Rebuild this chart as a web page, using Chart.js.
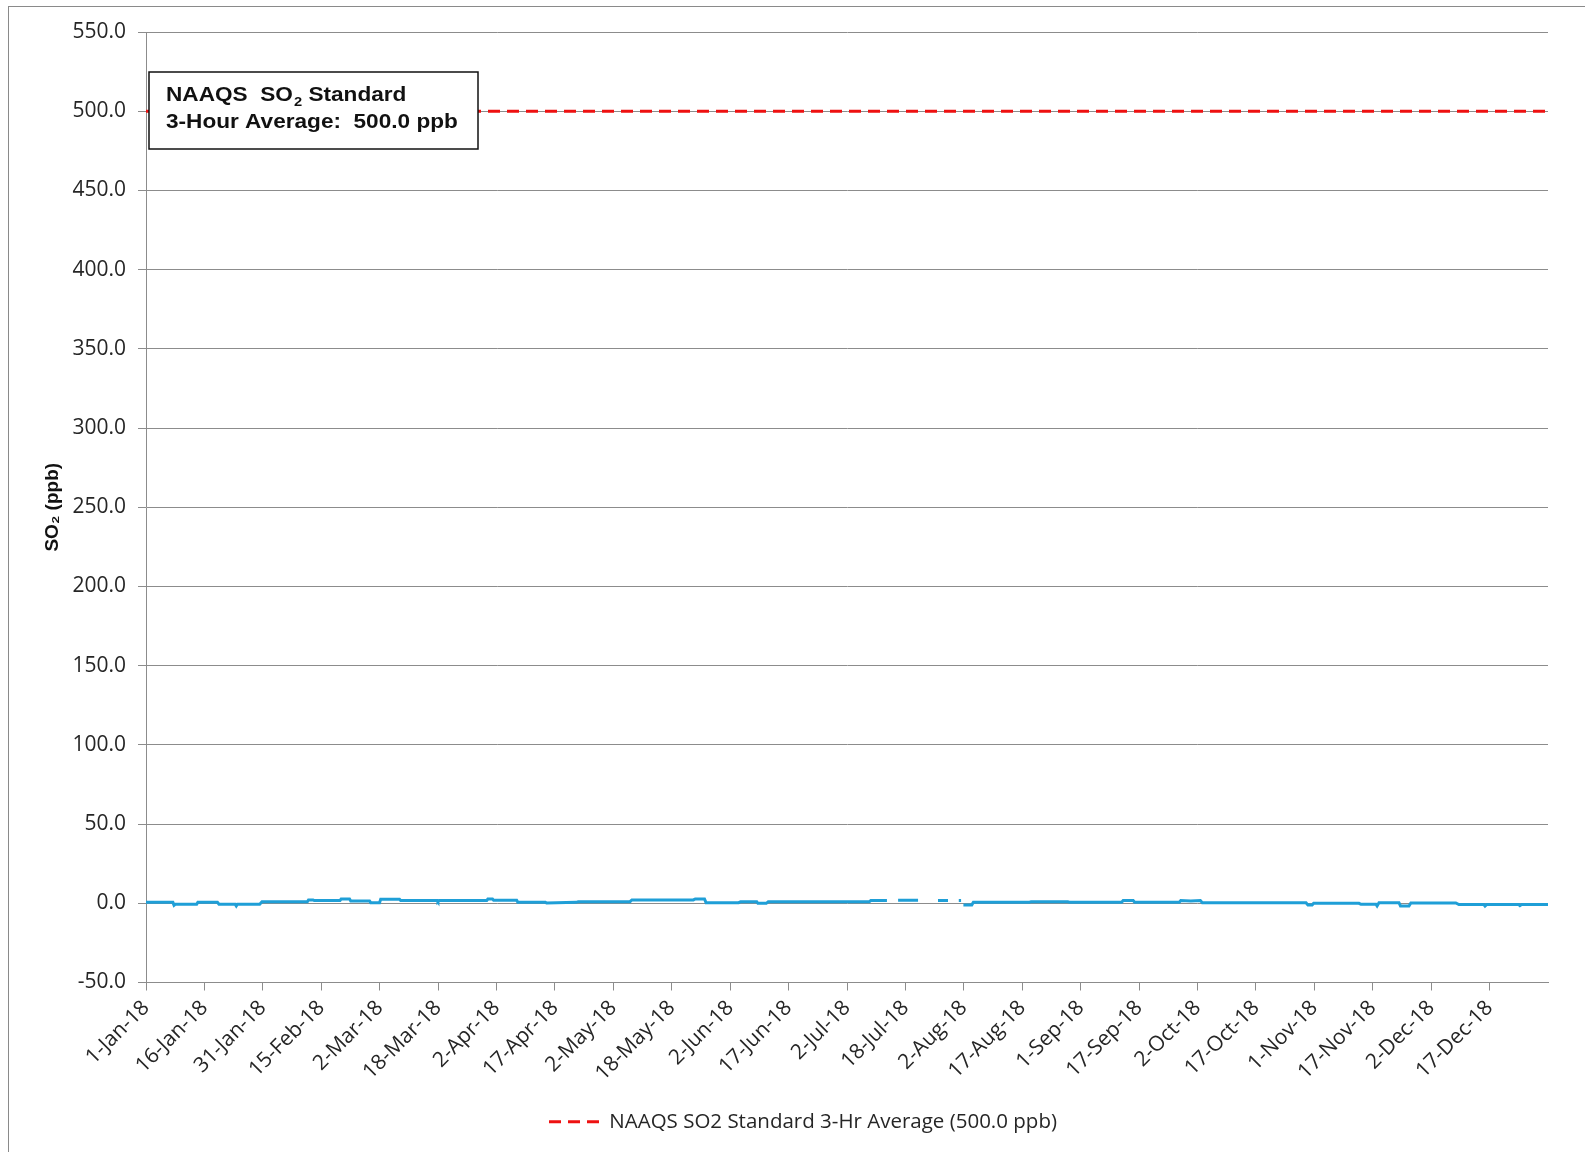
<!DOCTYPE html>
<html>
<head>
<meta charset="utf-8">
<script src="https://cdn.jsdelivr.net/npm/chart.js@4.4.1/dist/chart.umd.min.js"></script>
<style>
  html, body { margin: 0; padding: 0; background: #fff; overflow: hidden; }
  #frame { position: absolute; left: 8px; top: 6px; width: 1700px; height: 1300px; border: 1px solid #8a8a8a; z-index: 0; }
  #wrap { position: absolute; left: 0; top: 0; width: 1585px; height: 1152px; z-index: 1; }
</style>
</head>
<body>
<div id="frame"></div>
<div id="wrap"><canvas id="c" width="1585" height="1152"></canvas></div>
<script>
// ---- data ----
const tickLabels = ['1-Jan-18','16-Jan-18','31-Jan-18','15-Feb-18','2-Mar-18','18-Mar-18','2-Apr-18','17-Apr-18',
  '2-May-18','18-May-18','2-Jun-18','17-Jun-18','2-Jul-18','18-Jul-18','2-Aug-18','17-Aug-18','1-Sep-18',
  '17-Sep-18','2-Oct-18','17-Oct-18','1-Nov-18','17-Nov-18','2-Dec-18','17-Dec-18'];
const yTickValues = [-50, 0, 50, 100, 150, 200, 250, 300, 350, 400, 450, 500, 550];
// day of year and SO2 3-hr average (ppb); null = missing data
const so2Days = [0, 7.0, 7.3, 7.6, 13.2, 13.5, 18.6, 19.0, 23.2, 23.5, 23.8, 29.6, 30.2, 42.0, 42.3, 43.5,
  43.8, 50.5, 50.8, 53.0, 53.3, 58.2, 58.5, 60.8, 61.1, 66.0, 66.3, 75.8, 76.0, 76.3, 88.7, 89.0, 90.2,
  90.5, 96.5, 96.8, 104.0, 104.3, 112.0, 112.5, 120.8, 121.3, 126.0, 126.5, 142.5, 143.0, 145.4, 145.8,
  154.3, 154.8, 159.0, 159.3, 161.5, 162.0, 188.3, 188.7, 192.9, 193.0, 195.8, 201.0, 201.1, 206.2,
  208.8, 208.9, 211.6, 212.2, 212.3, 212.8, 215.0, 215.4, 230.0, 230.4, 240.0, 240.5, 254.0, 254.4,
  257.0, 257.4, 269.0, 269.4, 272.0, 274.5, 275.0, 302.0, 302.5, 303.6, 304.0, 315.8, 316.3, 320.2,
  320.5, 321.0, 326.2, 326.6, 328.8, 329.3, 341.0, 341.8, 348.3, 348.6, 349.0, 357.4, 357.7, 358.1, 365];
const so2Values = [0.6, 0.6, -1.2, -0.6, -0.6, 0.6, 0.6, -0.6, -0.6, -1.7, -0.6, -0.6, 1.0, 1.0, 2.1, 2.1,
  1.7, 1.7, 2.7, 2.7, 1.5, 1.5, 0.4, 0.4, 2.5, 2.5, 1.7, 1.7, 1.0, 1.7, 1.7, 2.7, 2.7,
  1.9, 1.9, 0.6, 0.6, 0.2, 0.6, 0.9, 0.9, 1.0, 1.0, 2.1, 2.1, 2.7, 2.7, 0.4,
  0.4, 1.0, 1.0, 0.0, 0.0, 1.0, 1.0, 1.7, 1.7, null, 1.9, 1.9, null, 1.7,
  1.7, null, 1.7, 1.7, null, -1.0, -1.0, 0.6, 0.6, 1.0, 1.0, 0.6, 0.6, 1.7,
  1.7, 0.6, 0.6, 1.7, 1.4, 1.7, 0.4, 0.4, -1.0, -1.0, 0.0, 0.0, -0.6, -0.6,
  -1.7, 0.4, 0.4, -1.7, -1.7, 0.2, 0.2, -0.8, -0.8, -1.7, -0.8, -0.8, -1.5, -0.8, -0.8];
const standardDays = [0, 365];
const standardValue = 500.0;
const seriesNames = ['SO2 3-Hr Average', 'NAAQS SO2 Standard 3-Hr Average (500.0 ppb)'];
const boxLines = ['NAAQS  SO', '2', ' Standard', '3-Hour Average:  500.0 ppb'];

const daysInYear = 365;
const so2Points = so2Days.map((d, i) => ({ x: d, y: so2Values[i] }));
const stdPoints = standardDays.map(d => ({ x: d, y: standardValue }));

const textColor = '#262626';
const gridColor = '#8c8c8c';
const stdColor = '#ee1111';
const stdDash = [12, 7];

const annotationBox = {
  id: 'annotationBox',
  afterDatasetsDraw(chart) {
    const { ctx, chartArea } = chart;
    const x = chartArea.left + 3, y = chartArea.top + 40, w = 329, h = 77;
    ctx.save();
    ctx.fillStyle = '#fff';
    ctx.fillRect(x, y, w, h);
    ctx.strokeStyle = '#111';
    ctx.lineWidth = 1.5;
    ctx.strokeRect(x, y, w, h);
    ctx.fillStyle = '#111';
    ctx.textBaseline = 'alphabetic';
    const sx = 1.13;
    ctx.translate(x + 17, y + 29);
    ctx.scale(sx, 1);
    const big = 'bold 20px "Liberation Sans", Arial, sans-serif';
    const small = 'bold 13px "Liberation Sans", Arial, sans-serif';
    let tx = 0;
    ctx.font = big;
    ctx.fillText(boxLines[0], tx, 0);
    tx += ctx.measureText(boxLines[0]).width + 1;
    ctx.font = small;
    ctx.fillText(boxLines[1], tx, 5);
    tx += ctx.measureText(boxLines[1]).width;
    ctx.font = big;
    ctx.fillText(boxLines[2], tx, 0);
    ctx.fillText(boxLines[3], 0, 27);
    ctx.restore();
  }
};

new Chart(document.getElementById('c'), {
  type: 'line',
  data: {
    datasets: [
      {
        label: seriesNames[0],
        data: so2Points,
        borderColor: '#1f9fd7',
        backgroundColor: '#1f9fd7',
        borderWidth: 3,
        pointRadius: 0,
        spanGaps: false,
        order: 2
      },
      {
        label: seriesNames[1],
        data: stdPoints,
        borderColor: stdColor,
        backgroundColor: stdColor,
        borderWidth: 3,
        borderDash: stdDash,
        pointRadius: 0,
        order: 1
      }
    ]
  },
  options: {
    responsive: false,
    animation: false,
    layout: { padding: { left: 58, right: 37, top: 32, bottom: 10 } },
    plugins: {
      legend: {
        position: 'bottom',
        labels: {
          filter: item => item.datasetIndex === 1,
          usePointStyle: true,
          pointStyle: 'line',
          pointStyleWidth: 50,
          color: textColor,
          font: { family: '"Open Sans", sans-serif', size: 20.5 },
          padding: 10,
          generateLabels: chart => Chart.defaults.plugins.legend.labels.generateLabels(chart).map(it => Object.assign(it, {
            lineDash: stdDash, lineWidth: 3, strokeStyle: it.datasetIndex === 1 ? stdColor : it.strokeStyle, pointStyle: 'line'
          }))
        }
      },
      tooltip: { enabled: false }
    },
    scales: {
      x: {
        type: 'linear',
        min: 0,
        max: daysInYear,
        afterBuildTicks: s => { s.ticks = tickLabels.map((_, i) => ({ value: i * daysInYear / tickLabels.length })); },
        afterFit: s => { s.height = 119; },
        ticks: {
          autoSkip: false,
          minRotation: 45,
          maxRotation: 45,
          padding: 5,
          color: textColor,
          font: { family: '"Open Sans", sans-serif', size: 21 },
          callback: (v, i) => tickLabels[i]
        },
        grid: { drawOnChartArea: false, drawTicks: true, tickLength: 8, color: gridColor, lineWidth: 1 },
        border: { color: gridColor, width: 1 }
      },
      y: {
        min: -50,
        max: 550,
        afterBuildTicks: s => { s.ticks = yTickValues.map(v => ({ value: v })); },
        afterFit: s => { s.width = 88; },
        ticks: {
          padding: 12,
          color: textColor,
          font: { family: '"Open Sans", sans-serif', size: 21 },
          callback: v => Number(v).toFixed(1)
        },
        grid: { color: gridColor, lineWidth: 1, tickLength: 8, drawTicks: true },
        border: { color: gridColor, width: 1 },
        title: {
          display: true,
          text: 'SO₂ (ppb)',
          color: '#111',
          font: { family: '"Liberation Sans", Arial, sans-serif', size: 19, weight: 'bold' },
          padding: { top: -17, bottom: 0 }
        }
      }
    }
  },
  plugins: [annotationBox]
});
</script>
</body>
</html>
